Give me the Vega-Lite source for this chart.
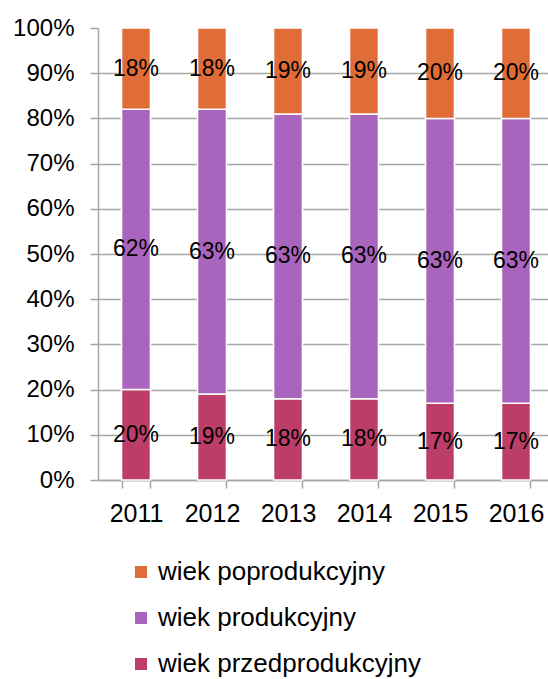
{
  "$schema": "https://vega.github.io/schema/vega-lite/v6.json",
  "autosize": {"type": "none"},
  "padding": {"left": 98, "top": 28, "right": 0, "bottom": 199},
  "width": 456,
  "height": 452,
  "background": "white",
  "config": {
    "view": {"stroke": null},
    "font": "Liberation Sans"
  },
  "data": {
    "values": [
      {"year": "2011", "group": "wiek przedprodukcyjny", "k": 1, "p": 0.20},
      {"year": "2011", "group": "wiek produkcyjny", "k": 2, "p": 0.62},
      {"year": "2011", "group": "wiek poprodukcyjny", "k": 3, "p": 0.18},
      {"year": "2012", "group": "wiek przedprodukcyjny", "k": 1, "p": 0.19},
      {"year": "2012", "group": "wiek produkcyjny", "k": 2, "p": 0.63},
      {"year": "2012", "group": "wiek poprodukcyjny", "k": 3, "p": 0.18},
      {"year": "2013", "group": "wiek przedprodukcyjny", "k": 1, "p": 0.18},
      {"year": "2013", "group": "wiek produkcyjny", "k": 2, "p": 0.63},
      {"year": "2013", "group": "wiek poprodukcyjny", "k": 3, "p": 0.19},
      {"year": "2014", "group": "wiek przedprodukcyjny", "k": 1, "p": 0.18},
      {"year": "2014", "group": "wiek produkcyjny", "k": 2, "p": 0.63},
      {"year": "2014", "group": "wiek poprodukcyjny", "k": 3, "p": 0.19},
      {"year": "2015", "group": "wiek przedprodukcyjny", "k": 1, "p": 0.17},
      {"year": "2015", "group": "wiek produkcyjny", "k": 2, "p": 0.63},
      {"year": "2015", "group": "wiek poprodukcyjny", "k": 3, "p": 0.20},
      {"year": "2016", "group": "wiek przedprodukcyjny", "k": 1, "p": 0.17},
      {"year": "2016", "group": "wiek produkcyjny", "k": 2, "p": 0.63},
      {"year": "2016", "group": "wiek poprodukcyjny", "k": 3, "p": 0.20}
    ]
  },
  "encoding": {
    "x": {
      "field": "year",
      "type": "ordinal",
      "scale": {"paddingInner": 0.62, "paddingOuter": 0.31},
      "axis": {
        "title": null,
        "labelAngle": 0,
        "labelFontSize": 25,
        "labelColor": "#000000",
        "labelPadding": 13,
        "domainColor": "#A6A6A6",
        "domainWidth": 1.5,
        "tickColor": "#A6A6A6",
        "tickWidth": 1.5,
        "tickSize": 8,
        "tickBand": "extent",
        "grid": false
      }
    }
  },
  "layer": [
    {
      "mark": {"type": "bar", "stroke": "white", "strokeWidth": 1.5},
      "encoding": {
        "y": {
          "field": "p",
          "type": "quantitative",
          "stack": "normalize",
          "scale": {"domain": [0, 1], "nice": false},
          "axis": {
            "title": null,
            "format": ".0%",
            "values": [0, 0.1, 0.2, 0.3, 0.4, 0.5, 0.6, 0.7, 0.8, 0.9, 1],
            "labelFontSize": 24,
            "labelColor": "#000000",
            "labelPadding": 16,
            "domainColor": "#A6A6A6",
            "domainWidth": 1.5,
            "tickColor": "#A6A6A6",
            "tickWidth": 1.5,
            "tickSize": 8,
            "grid": true,
            "gridColor": "#A6A6A6",
            "gridWidth": 1.5,
            "gridOpacity": {"condition": {"test": "datum.value >= 1", "value": 0}, "value": 1}
          }
        },
        "order": {"field": "k", "type": "quantitative", "sort": "ascending"},
        "color": {
          "field": "group",
          "type": "nominal",
          "scale": {
            "domain": ["wiek poprodukcyjny", "wiek produkcyjny", "wiek przedprodukcyjny"],
            "range": ["#E06C37", "#A964BE", "#BC3D68"]
          },
          "legend": {
            "title": null,
            "orient": "none",
            "legendX": 30,
            "legendY": 531,
            "direction": "vertical",
            "padding": 0,
            "symbolType": "square",
            "symbolSize": 144,
            "symbolStrokeWidth": 0,
            "labelFontSize": 26,
            "labelColor": "#000000",
            "labelOffset": 4,
            "rowPadding": 20,
            "labelLimit": 500
          }
        }
      }
    },
    {
      "transform": [
        {"stack": "p", "groupby": ["year"], "sort": [{"field": "k", "order": "ascending"}], "offset": "normalize", "as": ["v0", "v1"]},
        {"fold": ["v0", "v1"], "as": ["edge", "val"]},
        {"aggregate": [{"op": "mean", "field": "val", "as": "mid"}], "groupby": ["year", "group", "p"]}
      ],
      "mark": {"type": "text", "fontSize": 23, "color": "#000000", "baseline": "middle", "align": "center"},
      "encoding": {
        "y": {"field": "mid", "type": "quantitative"},
        "text": {"field": "p", "type": "quantitative", "format": ".0%"}
      }
    }
  ]
}
